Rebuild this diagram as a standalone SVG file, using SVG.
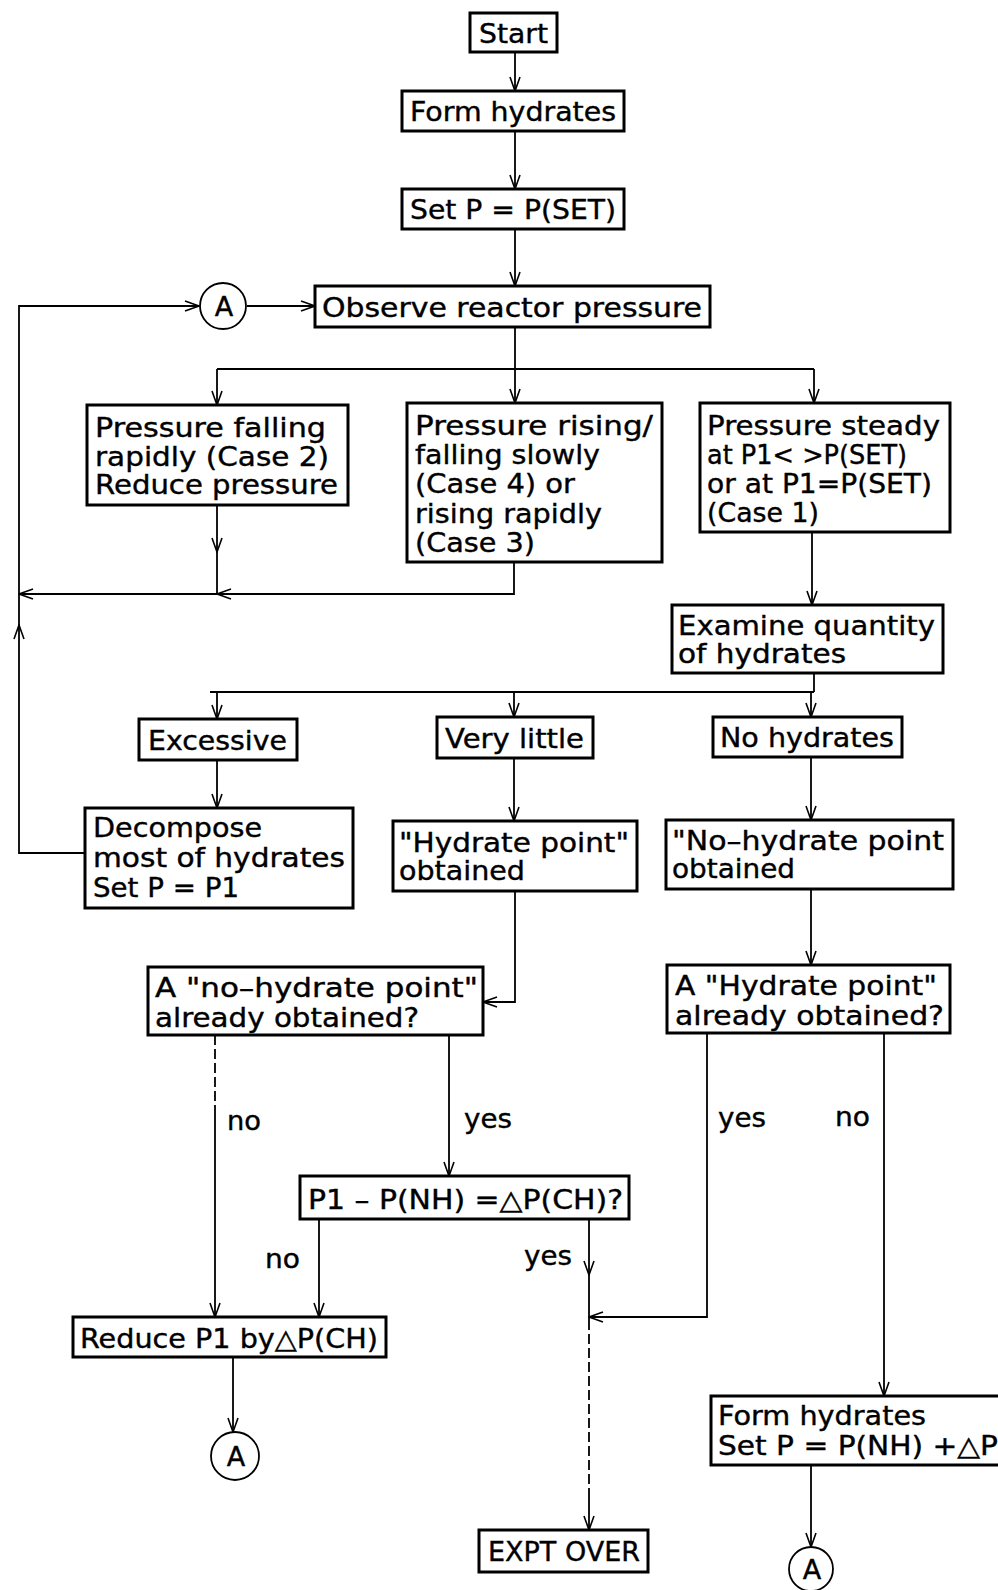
<svg xmlns="http://www.w3.org/2000/svg" width="998" height="1590" viewBox="0 0 998 1590">
<defs>
<marker id="arr" markerUnits="userSpaceOnUse" markerWidth="16" markerHeight="12" viewBox="0 0 16 12" refX="15" refY="6" orient="auto">
<path d="M1,1 L15,6 L1,11" fill="none" stroke="#000" stroke-width="1.6"/>
</marker>
<style>
.box{fill:#fff;stroke:#000;stroke-width:3}
.c{fill:#fff;stroke:#000;stroke-width:1.8}
.t{font-family:"DejaVu Sans","Liberation Sans",sans-serif;font-size:27px;fill:#000;stroke:#000;stroke-width:0.4}
.l{fill:none;stroke:#000;stroke-width:1.8}
.a{fill:none;stroke:#000;stroke-width:1.8;marker-end:url(#arr)}
.d{stroke-dasharray:10 4}
</style>
</defs>
<rect width="998" height="1590" fill="#fff"/>
<g id="connectors">
<path class="a" d="M515,52 V91"/>
<path class="a" d="M515,131 V189"/>
<path class="a" d="M515,229 V286"/>
<path class="l" d="M515,327 V369"/>
<path class="l" d="M217,369 H814"/>
<path class="a" d="M217,369 V405"/>
<path class="a" d="M515,369 V403"/>
<path class="a" d="M814,369 V403"/>
<path class="a" d="M217,505 V552"/>
<path class="l" d="M217,552 V594"/>
<path class="a" d="M514,562 V594 H217"/>
<path class="a" d="M217,594 H19"/>
<path class="a" d="M85,853 H19 V625"/>
<path class="a" d="M19,625 V306 H199"/>
<path class="a" d="M247,306 H315"/>
<path class="a" d="M812,532 V605"/>
<path class="l" d="M814,673 V692"/>
<path class="l" d="M210,692 H814"/>
<path class="a" d="M217,692 V719"/>
<path class="a" d="M514,692 V717"/>
<path class="a" d="M811,692 V717"/>
<path class="a" d="M217,760 V808"/>
<path class="a" d="M514,758 V821"/>
<path class="a" d="M811,757 V820"/>
<path class="a" d="M515,891 V1002 H483"/>
<path class="a" d="M811,889 V965"/>
<path class="l d" d="M215,1035 V1110"/>
<path class="a" d="M215,1110 V1317"/>
<path class="a" d="M449,1035 V1176"/>
<path class="a" d="M319,1219 V1317"/>
<path class="a" d="M589,1219 V1275"/>
<path class="l" d="M589,1275 V1320"/>
<path class="l d" d="M589,1320 V1490"/>
<path class="a" d="M589,1490 V1530"/>
<path class="a" d="M707,1033 V1317 H589"/>
<path class="a" d="M884,1033 V1396"/>
<path class="a" d="M811,1465 V1547"/>
<path class="a" d="M233,1357 V1432"/>
</g>
<g id="labels">
<text class="t" x="227" y="1130" textLength="34" lengthAdjust="spacingAndGlyphs">no</text>
<text class="t" x="464" y="1128" textLength="48" lengthAdjust="spacingAndGlyphs">yes</text>
<text class="t" x="718" y="1127" textLength="48" lengthAdjust="spacingAndGlyphs">yes</text>
<text class="t" x="835" y="1126" textLength="35" lengthAdjust="spacingAndGlyphs">no</text>
<text class="t" x="265" y="1268" textLength="35" lengthAdjust="spacingAndGlyphs">no</text>
<text class="t" x="524" y="1265" textLength="48" lengthAdjust="spacingAndGlyphs">yes</text>
</g>
<g id="start"><rect class="box" x="470" y="13" width="87" height="39"/><text class="t" x="479" y="43" textLength="69" lengthAdjust="spacingAndGlyphs">Start</text></g>
<g id="form1"><rect class="box" x="402" y="91" width="222" height="40"/><text class="t" x="410" y="121" textLength="206" lengthAdjust="spacingAndGlyphs">Form hydrates</text></g>
<g id="setp"><rect class="box" x="402" y="189" width="222" height="40"/><text class="t" x="410" y="219" textLength="206" lengthAdjust="spacingAndGlyphs">Set P = P(SET)</text></g>
<g id="connA1"><circle class="c" cx="223" cy="306" r="23"/><text class="t" x="224" y="316" text-anchor="middle">A</text></g>
<g id="observe"><rect class="box" x="315" y="286" width="395" height="41"/><text class="t" x="322" y="317" textLength="380" lengthAdjust="spacingAndGlyphs">Observe reactor pressure</text></g>
<g id="falling"><rect class="box" x="87" y="405" width="261" height="100"/>
<text class="t" x="95" y="437" textLength="231" lengthAdjust="spacingAndGlyphs">Pressure falling</text>
<text class="t" x="95" y="466" textLength="234" lengthAdjust="spacingAndGlyphs">rapidly (Case 2)</text>
<text class="t" x="95" y="494" textLength="243" lengthAdjust="spacingAndGlyphs">Reduce pressure</text></g>
<g id="rising"><rect class="box" x="407" y="403" width="255" height="159"/>
<text class="t" x="415" y="435" textLength="238" lengthAdjust="spacingAndGlyphs">Pressure rising/</text>
<text class="t" x="415" y="464" textLength="185" lengthAdjust="spacingAndGlyphs">falling slowly</text>
<text class="t" x="415" y="493" textLength="160" lengthAdjust="spacingAndGlyphs">(Case 4) or</text>
<text class="t" x="415" y="523" textLength="187" lengthAdjust="spacingAndGlyphs">rising rapidly</text>
<text class="t" x="415" y="552" textLength="120" lengthAdjust="spacingAndGlyphs">(Case 3)</text></g>
<g id="steady"><rect class="box" x="700" y="403" width="250" height="129"/>
<text class="t" x="707" y="435" textLength="233" lengthAdjust="spacingAndGlyphs">Pressure steady</text>
<text class="t" x="707" y="464" textLength="200" lengthAdjust="spacingAndGlyphs">at P1&lt; &gt;P(SET)</text>
<text class="t" x="707" y="493" textLength="225" lengthAdjust="spacingAndGlyphs">or at P1=P(SET)</text>
<text class="t" x="707" y="522" textLength="112" lengthAdjust="spacingAndGlyphs">(Case 1)</text></g>
<g id="examine"><rect class="box" x="672" y="605" width="271" height="68"/>
<text class="t" x="678" y="635" textLength="257" lengthAdjust="spacingAndGlyphs">Examine quantity</text>
<text class="t" x="678" y="663" textLength="168" lengthAdjust="spacingAndGlyphs">of hydrates</text></g>
<g id="excessive"><rect class="box" x="139" y="719" width="158" height="41"/><text class="t" x="148" y="750" textLength="139" lengthAdjust="spacingAndGlyphs">Excessive</text></g>
<g id="verylittle"><rect class="box" x="437" y="717" width="156" height="41"/><text class="t" x="445" y="748" textLength="139" lengthAdjust="spacingAndGlyphs">Very little</text></g>
<g id="nohydrates"><rect class="box" x="713" y="717" width="189" height="40"/><text class="t" x="720" y="747" textLength="174" lengthAdjust="spacingAndGlyphs">No hydrates</text></g>
<g id="decompose"><rect class="box" x="85" y="808" width="268" height="100"/>
<text class="t" x="93" y="837" textLength="169" lengthAdjust="spacingAndGlyphs">Decompose</text>
<text class="t" x="93" y="867" textLength="252" lengthAdjust="spacingAndGlyphs">most of hydrates</text>
<text class="t" x="93" y="897" textLength="146" lengthAdjust="spacingAndGlyphs">Set P = P1</text></g>
<g id="hydpoint"><rect class="box" x="393" y="821" width="244" height="70"/>
<text class="t" x="399" y="852" textLength="230" lengthAdjust="spacingAndGlyphs">"Hydrate point"</text>
<text class="t" x="399" y="880" textLength="126" lengthAdjust="spacingAndGlyphs">obtained</text></g>
<g id="nohydpoint"><rect class="box" x="666" y="820" width="287" height="69"/>
<text class="t" x="672" y="850" textLength="272" lengthAdjust="spacingAndGlyphs">"No–hydrate point</text>
<text class="t" x="672" y="878" textLength="123" lengthAdjust="spacingAndGlyphs">obtained</text></g>
<g id="q1"><rect class="box" x="148" y="967" width="335" height="68"/>
<text class="t" x="155" y="997" textLength="323" lengthAdjust="spacingAndGlyphs">A "no–hydrate point"</text>
<text class="t" x="155" y="1027" textLength="264" lengthAdjust="spacingAndGlyphs">already obtained?</text></g>
<g id="q2"><rect class="box" x="667" y="965" width="283" height="68"/>
<text class="t" x="675" y="995" textLength="262" lengthAdjust="spacingAndGlyphs">A "Hydrate point"</text>
<text class="t" x="675" y="1025" textLength="269" lengthAdjust="spacingAndGlyphs">already obtained?</text></g>
<g id="p1"><rect class="box" x="300" y="1176" width="329" height="43"/><text class="t" x="308" y="1209" textLength="315" lengthAdjust="spacingAndGlyphs">P1 – P(NH) =△P(CH)?</text></g>
<g id="reduce"><rect class="box" x="73" y="1317" width="313" height="40"/><text class="t" x="80" y="1348" textLength="298" lengthAdjust="spacingAndGlyphs">Reduce P1 by△P(CH)</text></g>
<g id="connA2"><circle class="c" cx="235" cy="1456" r="24"/><text class="t" x="236" y="1466" text-anchor="middle">A</text></g>
<g id="expt"><rect class="box" x="479" y="1530" width="169" height="42"/><text class="t" x="488" y="1561" textLength="152" lengthAdjust="spacingAndGlyphs">EXPT OVER</text></g>
<g id="form2"><rect class="box" x="711" y="1396" width="295" height="69"/>
<text class="t" x="718" y="1425" textLength="208" lengthAdjust="spacingAndGlyphs">Form hydrates</text>
<text class="t" x="718" y="1455" textLength="280" lengthAdjust="spacingAndGlyphs">Set P = P(NH) +△P</text></g>
<g id="connA3"><circle class="c" cx="811" cy="1569" r="22"/><text class="t" x="812" y="1579" text-anchor="middle">A</text></g>
</svg>
